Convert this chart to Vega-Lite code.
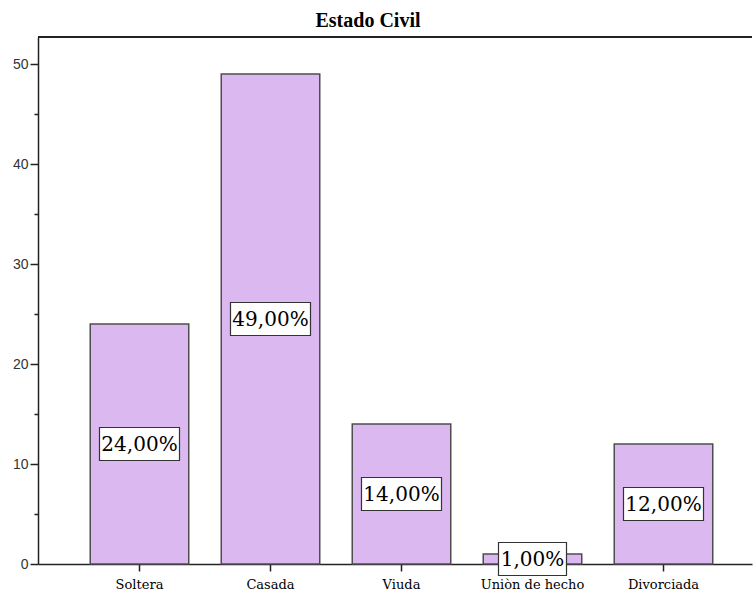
{
  "$schema": "https://vega.github.io/schema/vega-lite/v6.json",
  "width": 714,
  "height": 527,
  "autosize": {"type": "none"},
  "padding": {"left": 38, "top": 37, "right": 2, "bottom": 30},
  "background": "white",
  "title": {"text": "Estado Civil", "font": "Liberation Serif", "fontSize": 20, "fontWeight": "bold", "color": "black", "anchor": "middle", "frame": "group", "dx": -27, "offset": 5},
  "config": {"view": {"stroke": null}},
  "data": {"values": [
    {"estado": "Soltera", "n": 24, "label": "24,00%"},
    {"estado": "Casada", "n": 49, "label": "49,00%"},
    {"estado": "Viuda", "n": 14, "label": "14,00%"},
    {"estado": "Uniòn de hecho", "n": 1, "label": "1,00%"},
    {"estado": "Divorciada", "n": 12, "label": "12,00%"}
  ]},
  "layer": [
    {
      "mark": {"type": "bar", "fill": "#dcb8f0", "stroke": "#4d4d4d", "strokeWidth": 1.5},
      "encoding": {
        "x": {"field": "estado", "type": "nominal", "sort": null,
          "scale": {"paddingInner": 0.248, "paddingOuter": 0.3492, "align": 0.571},
          "axis": {"orient": "bottom", "title": null, "labelAngle": 0, "labelFont": "DejaVu Serif", "labelFontSize": 13, "labelColor": "black", "tickSize": 7, "tickColor": "#222", "tickWidth": 1.5, "domainColor": "#222", "domainWidth": 1.5, "labelPadding": 7, "grid": false}},
        "y": {"field": "n", "type": "quantitative", "title": null,
          "scale": {"domain": [0, 52.7], "nice": false, "zero": true},
          "axis": {"values": [0, 5, 10, 15, 20, 25, 30, 35, 40, 45, 50], "labelExpr": "datum.value % 10 === 0 ? datum.label : ''", "tickSize": {"condition": {"test": "datum.value % 10 !== 0", "value": 4}, "value": 8}, "tickColor": "#222", "tickWidth": 1.5, "domainColor": "#222", "domainWidth": 1.5, "labelFont": "Liberation Sans", "labelFontSize": 14, "labelColor": "#333", "labelPadding": 2, "grid": false, "title": null}}
      }
    },
    {
      "mark": {"type": "rule", "color": "#222", "strokeWidth": 1.5},
      "encoding": {"y": {"datum": 52.7, "type": "quantitative"}}
    },
    {
      "transform": [{"calculate": "datum.n / 2", "as": "mid"}],
      "mark": {"type": "point", "filled": true, "fill": "white", "stroke": "#333", "strokeWidth": 1.2, "opacity": 1, "size": 6400},
      "encoding": {
        "x": {"field": "estado", "type": "nominal", "sort": null},
        "y": {"field": "mid", "type": "quantitative", "title": null},
        "shape": {"field": "label", "type": "nominal", "legend": null,
          "scale": {"domain": ["24,00%", "49,00%", "14,00%", "1,00%", "12,00%"],
            "range": ["M-1,-0.4125H1V0.4125H-1Z", "M-1,-0.4125H1V0.4125H-1Z", "M-1,-0.4125H1V0.4125H-1Z", "M-0.85,-0.4125H0.85V0.4125H-0.85Z", "M-1,-0.4125H1V0.4125H-1Z"]}}
      }
    },
    {
      "transform": [{"calculate": "datum.n / 2", "as": "mid"}],
      "mark": {"type": "text", "font": "DejaVu Serif", "fontSize": 20, "color": "black", "baseline": "middle", "align": "center", "dy": 1},
      "encoding": {
        "x": {"field": "estado", "type": "nominal", "sort": null},
        "y": {"field": "mid", "type": "quantitative", "title": null},
        "text": {"field": "label"}
      }
    }
  ]
}
